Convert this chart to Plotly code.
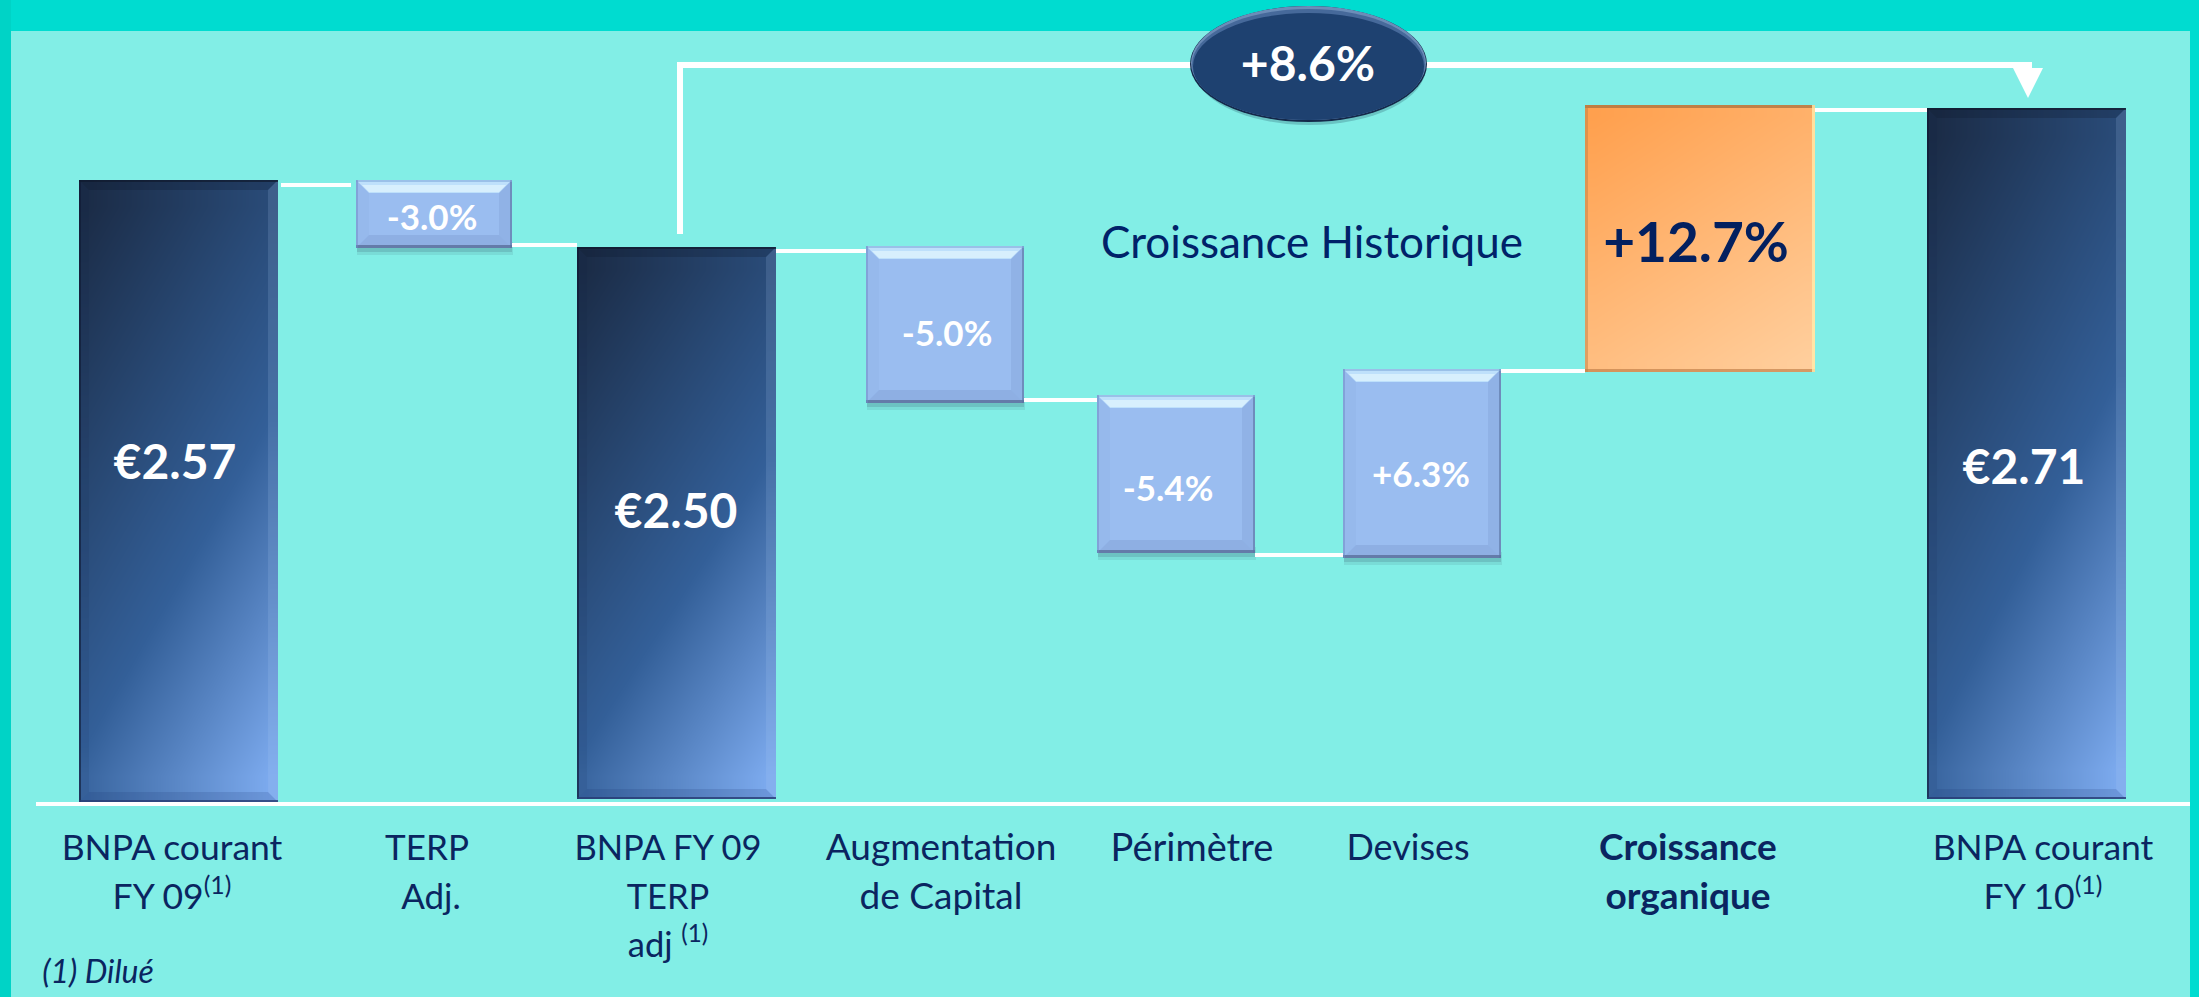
import numpy as np
import plotly.graph_objects as go

# ---- chart content -------------------------------------------------------
categories = ["BNPA courant FY 09", "TERP Adj.", "BNPA FY 09 TERP adj", "Augmentation de Capital",
              "Périmètre", "Devises", "Croissance organique", "BNPA courant FY 10"]
value_labels = ["€2.57", "-3.0%", "€2.50", "-5.0%", "-5.4%", "+6.3%", "+12.7%", "€2.71"]
# drawn extent of each bar above the baseline (the original axis is broken, units = picture height)
drawn_low = [0, 554, 3, 399, 249, 244, 430, 3]
drawn_high = [622, 622, 555, 556, 407, 433, 697, 694]
# drawn level of the white connector between consecutive bars
connector_level = [617, 557, 551, 402, 247, 431, 692]
total_label = "+8.6%"
side_label = "Croissance Historique"
footnote = "(1) Dilué"
axis_lines = [
    ["BNPA courant", "FY 09<sup>(1)</sup>"],
    ["TERP", "Adj."],
    ["BNPA FY 09", "TERP", "adj <sup>(1)</sup>"],
    ["Augmentation", "de Capital"],
    ["Périmètre"],
    ["Devises"],
    ["<b>Croissance</b>", "<b>organique</b>"],
    ["BNPA courant", "FY 10<sup>(1)</sup>"],
]

# ---- layout constants ----------------------------------------------------
W, H = 2199, 997
BASE_PX = 802
def Y(px):
    return BASE_PX - px

bar_left = [79, 356, 577, 866, 1097, 1343, 1585, 1927]
bar_right = [278, 512, 776, 1024, 1255, 1501, 1815, 2126]
kinds = ["dark", "light", "dark", "light", "light", "light", "orange", "dark"]
label_x = [[172, 172], [427, 431], [668, 668, 668], [941, 941], [1192], [1408], [1688, 1688], [2043, 2043]]
label_size = [35.5, 35, 34.5, 37, 38, 36, 37, 35.5]
label_line_px = [851, 900, 948]
value_xy = [(175, 467), (432, 221), (676, 516), (947, 337), (1168, 492), (1421, 478), (1696, 248), (2024, 472)]
value_size = [48, 35, 48, 35, 35, 35, 55, 48]
NAVY = "#0A2560"
FONT = "Lato"

grad = {
    "dark": [[0, "#1B2C47"], [0.3, "#274670"], [0.6, "#335F98"], [1, "#7CAAEE"]],
    "orange": [[0, "#FFA04E"], [1, "#FFCE9C"]],
}

fig = go.Figure()
shapes = []

def rect(x0, x1, px0, px1, color, layer="below", line=None):
    shapes.append(dict(type="rect", xref="x", yref="y", x0=x0, x1=x1, y0=Y(px0), y1=Y(px1),
                       fillcolor=color, layer=layer, line=dict(width=0) if line is None else line))

def poly(points, color, layer="above"):
    d = "M" + " L".join(f"{x},{Y(p)}" for x, p in points) + " Z"
    shapes.append(dict(type="path", xref="x", yref="y", path=d, fillcolor=color, line=dict(width=0), layer=layer))

def ell(x0, x1, px0, px1, color):
    shapes.append(dict(type="circle", xref="x", yref="y", x0=x0, x1=x1, y0=Y(px0), y1=Y(px1),
                       fillcolor=color, line=dict(width=0), layer="below"))

# background
rect(0, W, 0, H, "#00DCD0")
rect(0, 11, 0, H, "#00D3C6")
rect(11, 2190, 31, H, "#82EEE6")

# total-growth arrow
ARROW = "white"
shapes.append(dict(type="path", xref="x", yref="y", layer="below",
                   path=f"M680,{Y(234)} L680,{Y(65)} L2029,{Y(65)} L2029,{Y(70)}",
                   line=dict(color=ARROW, width=6), fillcolor="rgba(0,0,0,0)"))
poly([(2013, 68), (2043, 68), (2028, 98)], ARROW, layer="below")

# pill
ell(1193, 1426, 9, 125, "rgba(30,70,90,0.25)")
ell(1190, 1427, 6, 122, "#14294A")
ell(1191, 1426, 6, 120, "#6C8DB8")
ell(1192, 1425, 9, 120, "#46699A")
ell(1193, 1424, 13, 120, "#1E4170")

# soft shadows under the bevelled boxes
for l, r, hi, k in zip(bar_left, bar_right, drawn_low, kinds):
    if k == "light":
        rect(l + 1, r + 1, BASE_PX - hi - 6, BASE_PX - hi + 7, "rgba(60,90,110,0.12)")
        rect(l + 1, r, BASE_PX - hi - 6, BASE_PX - hi + 4, "rgba(60,90,110,0.20)")

# connectors and baseline
for i, lvl in enumerate(connector_level):
    fig.add_trace(go.Scatter(x=[bar_right[i] + (3 if i == 0 else 0), bar_left[i + 1] - (5 if i == 0 else 0)],
                             y=[lvl, lvl], mode="lines", line=dict(color="white", width=4),
                             hoverinfo="skip", showlegend=False))
fig.add_trace(go.Scatter(x=[36, 2190], y=[-2, -2], mode="lines", line=dict(color="white", width=4),
                         hoverinfo="skip", showlegend=False))

# diagonal gradient fill under the bars
N = 12
uu, vv = np.meshgrid(np.linspace(0, 1, N), np.linspace(0, 1, N))
for l, r, lo, hi, k in zip(bar_left, bar_right, drawn_low, drawn_high, kinds):
    if k == "light":
        continue
    fig.add_trace(go.Heatmap(
        x0=l + (r - l) / (2 * N), dx=(r - l) / N, y0=hi - (hi - lo) / (2 * N), dy=-(hi - lo) / N,
        z=0.36 * uu + 0.64 * vv, zmin=0, zmax=1, zsmooth="best", colorscale=grad[k],
        showscale=False, hoverinfo="skip"))

# bars
centers = [(l + r) / 2 for l, r in zip(bar_left, bar_right)]
widths = [r - l for l, r in zip(bar_left, bar_right)]
heights = [h - l for l, h in zip(drawn_low, drawn_high)]
fill = {"dark": "rgba(0,0,0,0)", "orange": "rgba(0,0,0,0)", "light": "#9ABDF0"}
fig.add_trace(go.Bar(x=centers, y=heights, base=drawn_low, width=widths, customdata=categories,
                     marker=dict(color=[fill[k] for k in kinds], line=dict(width=0)),
                     hovertemplate="%{customdata}<extra></extra>", showlegend=False))

# bevels
for l, r, lo, hi, k in zip(bar_left, bar_right, drawn_low, drawn_high, kinds):
    t, b = BASE_PX - hi, BASE_PX - lo
    if k == "light":
        s = 13
        poly([(l, t), (r, t), (r - s, t + s), (l + s, t + s)], "rgba(205,240,255,0.70)")
        poly([(l + 6, t + 5), (r - 6, t + 5), (r - s, t + s - 1), (l + s, t + s - 1)], "rgba(235,252,255,0.55)")
        poly([(l, b), (r, b), (r - s, b - s), (l + s, b - s)], "rgba(110,140,195,0.28)")
        poly([(l, t), (l + s, t + s), (l + s, b - s), (l, b)], "rgba(125,160,215,0.12)")
        poly([(r, t), (r - s, t + s), (r - s, b - s), (r, b)], "rgba(110,140,195,0.22)")
        rect(l, r, b - 3, b, "rgba(85,105,150,0.75)", layer="above")
        rect(r - 2, r, t, b, "rgba(90,115,160,0.60)", layer="above")
        rect(l, r, t, t + 2, "rgba(130,170,220,0.6)", layer="above")
        rect(l, l + 2, t, b, "rgba(110,140,195,0.5)", layer="above")
    elif k == "dark":
        s = 10
        poly([(l, t), (r, t), (r - s, t + s), (l + s, t + s)], "rgba(12,22,45,0.25)")
        poly([(l, b), (r, b), (r - s, b - s), (l + s, b - s)], "rgba(25,50,110,0.16)")
        poly([(l, t), (l + s, t + s), (l + s, b - s), (l, b)], "rgba(15,30,70,0.08)")
        poly([(r, t), (r - s, t + s), (r - s, b - s), (r, b)], "rgba(175,205,245,0.16)")
        rect(l, l + 2, t, b, "rgba(15,25,50,0.6)", layer="above")
        rect(l, r, b - 2, b, "rgba(40,60,115,0.8)", layer="above")
        rect(l, r, t, t + 2, "rgba(15,25,45,0.7)", layer="above")
    else:
        s = 3
        rect(l, r, t, t + s, "rgba(165,110,60,0.70)", layer="above")
        rect(l, r, b - s, b, "rgba(190,125,70,0.65)", layer="above")
        rect(l, l + s, t, b, "rgba(190,130,70,0.5)", layer="above")
        rect(r - s, r, t, b, "rgba(255,235,170,0.8)", layer="above")

# value labels
for txt, (x, p), size, k in zip(value_labels, value_xy, value_size, kinds):
    fig.add_trace(go.Scatter(x=[x], y=[Y(p)], mode="text", text=[f"<b>{txt}</b>"], textposition="middle center",
                             textfont=dict(family=FONT, size=size, color="#03205F" if k == "orange" else "white"),
                             hoverinfo="skip", showlegend=False, cliponaxis=False))

# category labels under the baseline
for lines, xs, size in zip(axis_lines, label_x, label_size):
    for line, x, p in zip(lines, xs, label_line_px):
        fig.add_trace(go.Scatter(x=[x], y=[Y(p)], mode="text", text=[line], textposition="middle center",
                                 textfont=dict(family=FONT, size=size, color=NAVY),
                                 hoverinfo="skip", showlegend=False, cliponaxis=False))

# free texts
fig.add_trace(go.Scatter(x=[1308], y=[Y(69)], mode="text", text=[f"<b>{total_label}</b>"], textposition="middle center",
                         textfont=dict(family=FONT, size=48, color="white"), hoverinfo="skip", showlegend=False))
fig.add_trace(go.Scatter(x=[1312], y=[Y(247)], mode="text", text=[side_label], textposition="middle center",
                         textfont=dict(family=FONT, size=44, color="#002269"), hoverinfo="skip", showlegend=False))
fig.add_trace(go.Scatter(x=[98], y=[Y(975)], mode="text", text=[f"<i>{footnote}</i>"], textposition="middle center",
                         textfont=dict(family=FONT, size=32, color=NAVY), hoverinfo="skip", showlegend=False))

fig.update_layout(
    width=W, height=H, margin=dict(l=0, r=0, t=0, b=0), autosize=False,
    paper_bgcolor="#82EEE6", plot_bgcolor="rgba(0,0,0,0)", showlegend=False, barmode="overlay",
    xaxis=dict(range=[0, W], visible=False, fixedrange=True),
    yaxis=dict(range=[Y(H), Y(0)], visible=False, fixedrange=True),
    shapes=shapes,
)
fig.write_html("out.html", config={"displayModeBar": False},
               post_script="document.body.style.margin='0';document.body.style.overflow='hidden';")
